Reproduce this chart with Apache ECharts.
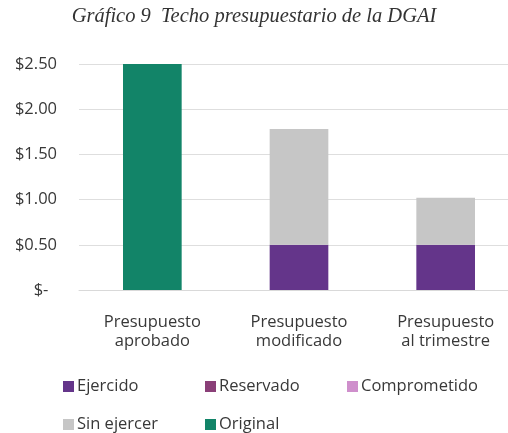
<!DOCTYPE html>
<html>
<head>
<meta charset="utf-8">
<script src="https://cdn.jsdelivr.net/npm/echarts@6/dist/echarts.min.js"></script>
<style>
  html, body { margin: 0; padding: 0; background: #fff; }
  #chart { width: 508px; height: 433px; }
</style>
</head>
<body>
<div id="chart"></div>
<script>
const categories = ['Presupuesto\naprobado', 'Presupuesto\nmodificado', 'Presupuesto\nal trimestre'];
const ejercido = [0, 0.5, 0.5];
const reservado = [0, 0, 0];
const comprometido = [0, 0, 0];
const sinEjercer = [0, 1.28, 0.52];
const original = [2.5, 0, 0];

const font = '"Open Sans", sans-serif';
const myChart = echarts.init(document.getElementById('chart'));

const seriesDefs = [
  { name: 'Ejercido', data: ejercido, color: '#64358a' },
  { name: 'Reservado', data: reservado, color: '#8a3f78' },
  { name: 'Comprometido', data: comprometido, color: '#cf8fcc' },
  { name: 'Sin ejercer', data: sinEjercer, color: '#c6c6c6' },
  { name: 'Original', data: original, color: '#128468' }
];
const legendPos = [
  { left: 63, top: 378 }, { left: 205, top: 378 }, { left: 347, top: 378 },
  { left: 63, top: 416 }, { left: 205, top: 416 }
];

const option = {
  animation: false,
  title: {
    text: 'Gráfico 9  Techo presupuestario de la DGAI',
    left: 'center',
    top: 2,
    textStyle: {
      fontFamily: '"Liberation Serif", serif',
      fontStyle: 'italic',
      fontWeight: 'normal',
      fontSize: 20.5,
      color: '#333'
    }
  },
  legend: seriesDefs.map((s, i) => ({
    data: [s.name],
    left: legendPos[i].left,
    top: legendPos[i].top,
    itemWidth: 11,
    itemHeight: 11,
    itemGap: 4,
    icon: 'rect',
    padding: 0,
    textStyle: { fontFamily: font, fontSize: 16.5, color: '#383838', padding: [0, 0, 0, -2] }
  })),
  grid: { left: 79, top: 64, width: 440, height: 226, outerBoundsMode: 'none' },
  xAxis: {
    type: 'category',
    data: categories,
    axisTick: { show: false },
    axisLine: { lineStyle: { color: '#d9d9d9' } },
    axisLabel: { fontFamily: font, fontSize: 16.5, color: '#383838', lineHeight: 19, margin: 23 }
  },
  yAxis: {
    type: 'value',
    min: 0,
    max: 2.5,
    interval: 0.5,
    axisLine: { show: false },
    axisTick: { show: false },
    splitLine: { lineStyle: { color: '#dedede' } },
    axisLabel: {
      fontFamily: font,
      fontSize: 16.5,
      color: '#383838',
      margin: 22,
      formatter: v => (v === 0 ? '$-  ' : '$' + v.toFixed(2))
    }
  },
  series: seriesDefs.map(s => ({
    name: s.name,
    type: 'bar',
    stack: 'total',
    barWidth: '40%',
    data: s.data,
    itemStyle: { color: s.color }
  }))
};

myChart.setOption(option);
</script>
</body>
</html>
